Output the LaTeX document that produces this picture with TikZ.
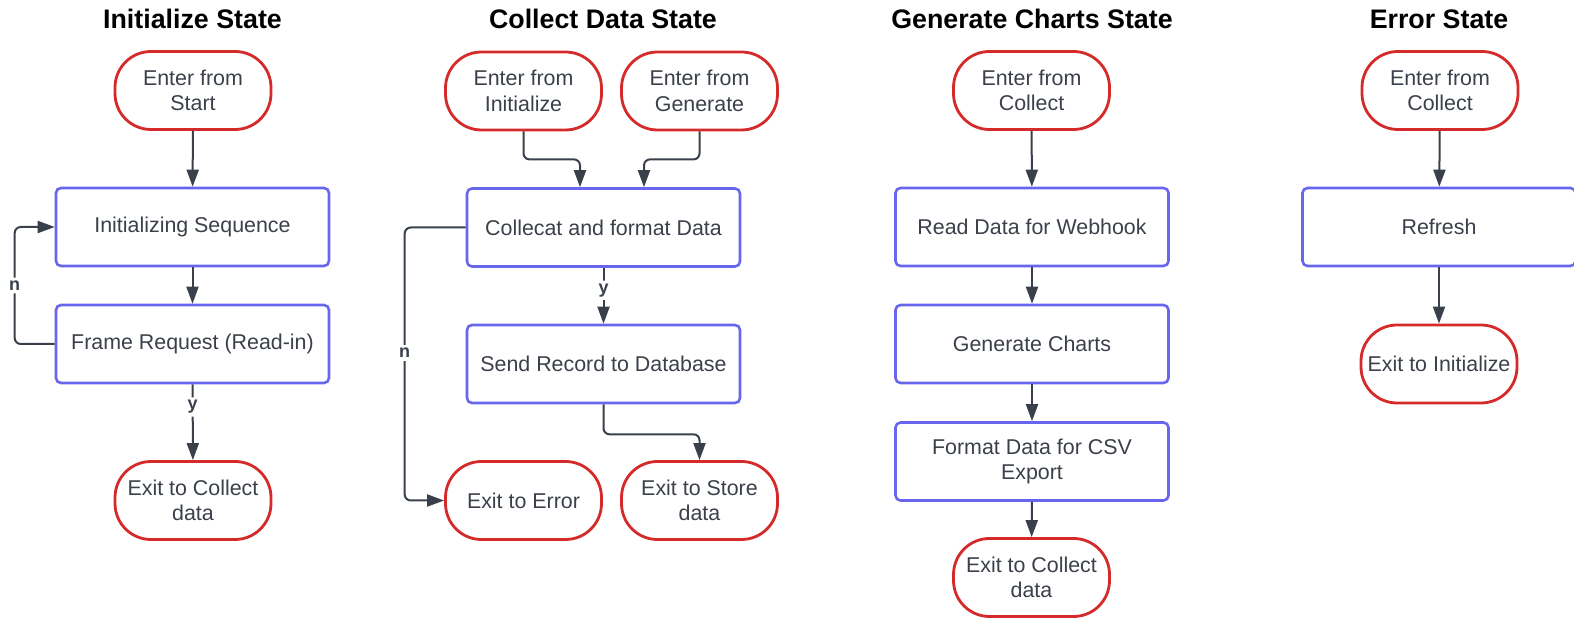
\documentclass[tikz,border=0pt]{standalone}
\usepackage{fontspec}
\setmainfont{Liberation Sans}
\usetikzlibrary{arrows.meta,calc}
\definecolor{pillred}{HTML}{D42A2A}
\definecolor{boxblue}{HTML}{6966EE}
\definecolor{txtgrey}{HTML}{3B404A}
\definecolor{arrgrey}{HTML}{3A404B}
\tikzset{
  bodyfont/.style={font=\fontsize{10.7}{12.8}\selectfont},
  pill/.style={draw=pillred, line width=1.4pt, rounded corners=18pt,
    minimum width=78pt, minimum height=39pt, align=center, text=txtgrey,
    bodyfont, inner sep=1pt, fill=white},
  stepbox/.style={draw=boxblue, line width=1.3pt, rounded corners=2.5pt,
    minimum width=136.5pt, minimum height=39pt, align=center, text=txtgrey,
    bodyfont, inner sep=1pt, fill=white},
  statetitle/.style={font=\fontsize{13.4}{16}\selectfont\bfseries, text=black},
  flow/.style={draw=arrgrey, line width=1pt, rounded corners=3pt,
    -{Triangle[length=8.5pt,width=6pt]}},
  lab/.style={font=\fontsize{9}{10}\selectfont\bfseries, text=arrgrey,
    fill=white, inner sep=1.5pt},
}
\begin{document}
\begin{tikzpicture}[x=0.5pt,y=-0.5pt]
\useasboundingbox (0,0) rectangle (1574,619);

% ---------- Initialize State ----------
\node[statetitle] (t1) at (192.5,19) {Initialize State};
\node[pill] (i0) at (193,90.5) {Enter from\\Start};
\node[stepbox] (i1) at (192.5,227) {Initializing Sequence};
\node[stepbox] (i2) at (192.5,344) {Frame Request (Read-in)};
\node[pill] (i3) at (193,500.5) {Exit to Collect\\data};
\draw[flow] (i0) -- (i1);
\draw[flow] (i1) -- (i2);
\draw[flow] (i2) -- node[lab,pos=0.3] {y} (i3);
\draw[flow] (i2.west) -- ++(-40,0) |- node[lab,pos=0.25] {n} (i1.west);

% ---------- Collect Data State ----------
\node[statetitle] (t2) at (603,19) {Collect Data State};
\node[pill] (c0a) at (523.5,91) {Enter from\\Initialize};
\node[pill] (c0b) at (699.5,91) {Enter from\\Generate};
\node[stepbox] (c1) at (603.5,227.5) {Collecat and format Data};
\node[stepbox] (c2) at (603.5,364) {Send Record to Database};
\node[pill] (c3) at (523.5,500.5) {Exit to Error};
\node[pill] (c4) at (699.5,500.5) {Exit to Store\\data};
\draw[flow] (c0a.south) -- ++(0,28) -| ($(c1.north)+(-23.5,0)$);
\draw[flow] (c0b.south) -- ++(0,28) -| ($(c1.north)+(40.5,0)$);
\draw[flow] (c1) -- node[lab,pos=0.4] {y} (c2);
\draw[flow] (c1.west) -- ++(-61,0) |- node[lab,pos=0.23] {n} (c3.west);
\draw[flow] (c2.south) -- ++(0,30) -| (c4.north);

% ---------- Generate Charts State ----------
\node[statetitle] (t3) at (1032,19) {Generate Charts State};
\node[pill] (g0) at (1031.5,90.5) {Enter from\\Collect};
\node[stepbox] (g1) at (1032,227) {Read Data for Webhook};
\node[stepbox] (g2) at (1032,344) {Generate Charts};
\node[stepbox] (g3) at (1032,461.5) {Format Data for CSV\\Export};
\node[pill] (g4) at (1031.5,577.5) {Exit to Collect\\data};
\draw[flow] (g0) -- (g1);
\draw[flow] (g1) -- (g2);
\draw[flow] (g2) -- (g3);
\draw[flow] (g3) -- (g4);

% ---------- Error State ----------
\node[statetitle] (t4) at (1439,19) {Error State};
\node[pill] (e0) at (1440,90.5) {Enter from\\Collect};
\node[stepbox] (e1) at (1439,227) {Refresh};
\node[pill] (e2) at (1439,364) {Exit to Initialize};
\draw[flow] (e0) -- (e1);
\draw[flow] (e1) -- (e2);
\end{tikzpicture}
\end{document}
